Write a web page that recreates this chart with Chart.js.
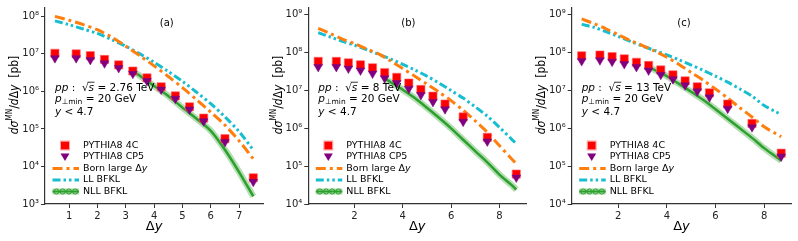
<!DOCTYPE html>
<html>
<head>
<meta charset="utf-8">
<script src="https://cdn.jsdelivr.net/npm/chart.js@4.4.1/dist/chart.umd.min.js"></script>
<style>
  body { margin: 0; background: #fff; width: 798px; height: 241px; overflow: hidden; position: relative; }
  canvas { position: absolute; top: 0; }
</style>
</head>
<body>
<canvas id="chartA" width="270" height="241" style="left:0px"></canvas>
<canvas id="chartB" width="268" height="241" style="left:265px"></canvas>
<canvas id="chartC" width="268" height="241" style="left:530px"></canvas>
<script>
// --- data ---
const xPythiaA = [0.5, 1.25, 1.75, 2.25, 2.75, 3.25, 3.75, 4.25, 4.75, 5.25, 5.75, 6.5, 7.5];
const xPythiaBC = [0.5, 1.25, 1.75, 2.25, 2.75, 3.25, 3.75, 4.25, 4.75, 5.25, 5.75, 6.5, 7.5, 8.7];
const xCurveA = [0.5, 1, 1.5, 2, 2.5, 3, 3.5, 4, 4.5, 5, 5.5, 6, 6.5, 7, 7.5];
const xCurveBC = [0.5, 1, 1.5, 2, 2.5, 3, 3.5, 4, 4.5, 5, 5.5, 6, 6.5, 7, 7.5, 8, 8.5, 8.7];
const xNllA = [3.3, 3.5, 4, 4.5, 5, 5.5, 6, 6.5, 7, 7.5];
const xNllBC = [3.3, 3.5, 4, 4.5, 5, 5.5, 6, 6.5, 7, 7.5, 8, 8.5, 8.7];

// (a) 2.76 TeV
const p4cA  = [1.04e7, 1.0e7, 9.0e6, 7.1e6, 5.1e6, 3.5e6, 2.3e6, 1.33e6, 7.6e5, 3.9e5, 1.95e5, 5.5e4, 5.0e3];
const cp5A  = [7.7e6, 7.7e6, 6.9e6, 5.6e6, 4.2e6, 2.95e6, 1.9e6, 1.12e6, 6.4e5, 3.3e5, 1.6e5, 4.5e4, 3.9e3];
const bornA = [1.0e8, 7.9e7, 6.0e7, 4.4e7, 2.8e7, 1.6e7, 8.9e6, 4.8e6, 2.5e6, 1.26e6, 6.0e5, 2.8e5, 1.26e5, 4.8e4, 1.6e4];
const llA   = [7.6e7, 6.0e7, 4.6e7, 3.5e7, 2.4e7, 1.6e7, 1.0e7, 6.0e6, 3.4e6, 1.86e6, 9.5e5, 4.7e5, 2.1e5, 8.5e4, 2.75e4];
const nllA  = [3.3e6, 2.6e6, 1.4e6, 7.6e5, 3.7e5, 1.86e5, 8.9e4, 2.8e4, 7.1e3, 1.6e3];

// (b) 8 TeV
const p4cB  = [5.9e7, 5.9e7, 5.4e7, 4.8e7, 4.0e7, 3.0e7, 2.24e7, 1.58e7, 1.07e7, 7.1e6, 4.4e6, 2.0e6, 5.8e5, 6.2e4];
const cp5B  = [4.2e7, 4.2e7, 3.8e7, 3.4e7, 2.8e7, 2.1e7, 1.58e7, 1.12e7, 7.6e6, 5.0e6, 3.2e6, 1.5e6, 4.5e5, 5.0e4];
const bornB = [4.4e8, 3.2e8, 2.3e8, 1.74e8, 1.26e8, 9.3e7, 6.0e7, 3.8e7, 2.4e7, 1.48e7, 9.1e6, 5.4e6, 3.0e6, 1.58e6, 7.9e5, 3.5e5, 1.58e5, 1.15e5];
const llB   = [3.4e8, 2.6e8, 2.0e8, 1.58e8, 1.2e8, 9.1e7, 6.8e7, 4.9e7, 3.5e7, 2.4e7, 1.58e7, 1.0e7, 6.3e6, 3.7e6, 2.1e6, 1.07e6, 5.2e5, 4.0e5];
const nllB  = [2.0e7, 1.66e7, 1.05e7, 6.3e6, 3.5e6, 1.9e6, 1.0e6, 5.0e5, 2.5e5, 1.26e5, 6.0e4, 3.2e4, 2.4e4];

// (c) 13 TeV
const p4cC  = [8.3e7, 8.7e7, 7.9e7, 6.9e7, 5.6e7, 4.6e7, 3.5e7, 2.6e7, 1.8e7, 1.26e7, 8.7e6, 4.4e6, 1.35e6, 2.2e5];
const cp5C  = [6.0e7, 6.3e7, 5.8e7, 5.0e7, 4.2e7, 3.4e7, 2.6e7, 2.0e7, 1.38e7, 9.5e6, 6.6e6, 3.3e6, 1.07e6, 1.8e5];
const bornC = [7.8e8, 5.9e8, 4.3e8, 3.0e8, 2.1e8, 1.55e8, 1.1e8, 7.6e7, 4.9e7, 3.0e7, 1.86e7, 1.1e7, 6.3e6, 3.5e6, 2.0e6, 1.1e6, 7.1e5, 6.0e5];
const llC   = [5.6e8, 4.7e8, 3.6e8, 2.7e8, 2.0e8, 1.5e8, 1.15e8, 8.7e7, 6.5e7, 4.7e7, 3.4e7, 2.4e7, 1.66e7, 1.1e7, 7.1e6, 4.0e6, 2.7e6, 2.3e6];
const nllC  = [4.0e7, 3.5e7, 2.4e7, 1.5e7, 9.3e6, 5.6e6, 3.2e6, 1.8e6, 1.0e6, 5.6e5, 3.0e5, 1.74e5, 1.4e5];

// tick labels
const xTicksA = [1, 2, 3, 4, 5, 6, 7];
const xTicksBC = [2, 4, 6, 8];
const yTicksA = [1e3, 1e4, 1e5, 1e6, 1e7, 1e8];
const yTicksBC = [1e4, 1e5, 1e6, 1e7, 1e8, 1e9];

const legendLabels = ['PYTHIA8 4C', 'PYTHIA8 CP5', 'Born large Δy', 'LL BFKL', 'NLL BFKL'];

const RED = '#ff0000', PURPLE = '#800080', ORANGE = '#ff7f0e', CYAN = '#17becf', GREEN = '#2ca02c';
const FONT = '"DejaVu Sans", sans-serif';
const BORN_DASH = [10, 4, 3, 4];
const LL_DASH = [8, 3, 2.5, 3, 2.5, 3];

function pts(xs, ys) { return xs.map((x, i) => ({ x: x, y: ys[i] })); }

const SUP = '⁰¹²³⁴⁵⁶⁷⁸⁹';
function decadeLabel(v) {
  const e = Math.round(Math.log10(v));
  return '10' + String(e).split('').map(d => SUP[+d]).join('');
}

// draw a run of text pieces with different fonts; returns width
function rich(ctx, x, y, pieces, base, measureOnly) {
  let cx = x;
  pieces.forEach(pc => {
    const size = pc.size || base;
    ctx.font = (pc.italic ? 'italic ' : '') + size + 'px ' + FONT;
    const w = ctx.measureText(pc.t).width;
    if (!measureOnly) {
      ctx.fillText(pc.t, cx, y + (pc.dy || 0));
      if (pc.over) {
        ctx.beginPath();
        ctx.lineWidth = 0.8;
        ctx.moveTo(cx - 1, y - base * 0.55);
        ctx.lineTo(cx + w + 0.5, y - base * 0.55);
        ctx.stroke();
      }
    }
    cx += w;
  });
  return cx - x;
}

function textPlugin(p) {
  return {
    id: 'texts',
    afterDraw(chart) {
      const ctx = chart.ctx;
      const a = chart.chartArea;
      ctx.save();
      ctx.fillStyle = '#000';
      ctx.strokeStyle = '#000';
      ctx.textBaseline = 'middle';
      ctx.textAlign = 'left';

      // y title (slightly squeezed along its length like the figure)
      const yt = [
        { t: 'd', italic: true }, { t: 'σ', italic: true }, { t: 'MN', size: 8.5, dy: -5 },
        { t: '/' }, { t: 'd', italic: true }, { t: 'Δ' }, { t: 'y', italic: true }, { t: '  [pb]' }
      ];
      ctx.save();
      ctx.translate(a.left - 30, 95);
      ctx.rotate(-Math.PI / 2);
      ctx.scale(0.86, 1);
      const tw = rich(ctx, 0, 0, yt, 12.5, true);
      rich(ctx, -tw / 2, 0, yt, 12.5);
      ctx.restore();

      // x title
      const xt = [{ t: 'Δ' }, { t: 'y', italic: true }];
      const xw = rich(ctx, 0, 0, xt, 13, true);
      rich(ctx, (a.left + a.right) / 2 - xw / 2, 227, xt, 13);

      // panel tag
      ctx.font = '10px ' + FONT;
      ctx.textAlign = 'center';
      ctx.fillText(p.tag, p.tagX, 23);
      ctx.textAlign = 'left';

      // annotation
      const ax = a.left + 10;
      rich(ctx, ax, 88, [{ t: 'pp', italic: true }, { t: ' :  √' }, { t: 's', italic: true, over: true }, { t: ' = ' + p.energy }], 10.5);
      rich(ctx, ax, 99.5, [{ t: 'p', italic: true }, { t: '⊥min', size: 7.5, dy: 3 }, { t: ' = 20 GeV' }], 10.5);
      rich(ctx, ax, 112, [{ t: 'y', italic: true }, { t: ' < 4.7' }], 10.5);

      // legend
      const rows = [145.5, 157, 168.5, 180, 191.5];
      const lx0 = a.left + 7.5, lx1 = a.left + 34, mx = a.left + 20, tx = a.left + 38;
      ctx.font = '9.5px ' + FONT;
      legendLabels.forEach((lab, i) => {
        if (i === 2) {
          rich(ctx, tx, rows[i], [{ t: 'Born large Δ' }, { t: 'y', italic: true }], 9.5);
        } else {
          ctx.font = '9.5px ' + FONT;
          ctx.fillText(lab, tx, rows[i]);
        }
      });
      // markers
      ctx.fillStyle = RED;
      ctx.fillRect(mx - 4, rows[0] - 4, 8, 8);
      ctx.strokeStyle = 'rgba(255,100,100,0.6)';
      ctx.lineWidth = 1;
      ctx.strokeRect(mx - 4.5, rows[0] - 4.5, 9, 9);
      ctx.fillStyle = PURPLE;
      ctx.beginPath();
      ctx.moveTo(mx - 4.5, rows[1] - 3.5);
      ctx.lineTo(mx + 4.5, rows[1] - 3.5);
      ctx.lineTo(mx, rows[1] + 4);
      ctx.closePath();
      ctx.fill();
      ctx.lineWidth = 3;
      ctx.strokeStyle = ORANGE;
      ctx.setLineDash(BORN_DASH);
      ctx.beginPath(); ctx.moveTo(lx0, rows[2]); ctx.lineTo(lx1, rows[2]); ctx.stroke();
      ctx.strokeStyle = CYAN;
      ctx.setLineDash(LL_DASH);
      ctx.beginPath(); ctx.moveTo(lx0, rows[3]); ctx.lineTo(lx1, rows[3]); ctx.stroke();
      ctx.setLineDash([]);
      ctx.strokeStyle = 'rgba(44,160,44,0.4)';
      ctx.lineWidth = 6;
      ctx.beginPath(); ctx.moveTo(lx0, rows[4]); ctx.lineTo(lx1, rows[4]); ctx.stroke();
      ctx.strokeStyle = GREEN;
      ctx.lineWidth = 2;
      ctx.beginPath(); ctx.moveTo(lx0, rows[4]); ctx.lineTo(lx1, rows[4]); ctx.stroke();
      ctx.lineWidth = 1;
      for (let k = 0; k < 4; k++) {
        ctx.beginPath();
        ctx.arc(lx0 + 4 + k * 6.2, rows[4], 2.6, 0, Math.PI * 2);
        ctx.stroke();
      }
      ctx.restore();
    }
  };
}

function makePanel(id, p) {
  const tickFont = { size: 10, family: FONT };
  new Chart(document.getElementById(id), {
    type: 'line',
    data: {
      datasets: [
        { data: pts(p.xPy, p.p4c), showLine: false, pointStyle: 'rect', pointRadius: 5.8, pointBackgroundColor: RED,
          pointBorderColor: 'rgba(255,110,110,0.6)', pointBorderWidth: 1, order: 1 },
        { data: pts(p.xPy, p.cp5), showLine: false, pointStyle: 'triangle', rotation: 180, pointRadius: 5, pointBackgroundColor: PURPLE,
          pointBorderColor: PURPLE, pointBorderWidth: 0.5, order: 0 },
        { data: pts(p.xCurve, p.born), borderColor: ORANGE, borderWidth: 3, borderDash: BORN_DASH, pointRadius: 0, tension: 0.3, order: 4 },
        { data: pts(p.xCurve, p.ll), borderColor: CYAN, borderWidth: 3, borderDash: LL_DASH, pointRadius: 0, tension: 0.3, order: 5 },
        { data: pts(p.xNll, p.nll), borderColor: 'rgba(44,160,44,0.35)', borderWidth: 6.5, pointRadius: 0, tension: 0.3, order: 3 },
        { data: pts(p.xNll, p.nll), borderColor: GREEN, borderWidth: 2.5, pointRadius: 0, tension: 0.3, order: 2 }
      ]
    },
    options: {
      responsive: false,
      animation: false,
      layout: { padding: { left: 0, right: p.padR, top: p.padT, bottom: 0 } },
      plugins: { legend: { display: false }, tooltip: { enabled: false } },
      scales: {
        x: {
          type: 'linear', min: p.xMin, max: p.xMax,
          afterBuildTicks: s => { s.ticks = p.xTicks.map(v => ({ value: v })); },
          afterFit: s => { s.height = 37; },
          grid: { drawOnChartArea: false, drawTicks: true, tickLength: 4, color: '#333', tickWidth: 1 },
          border: { display: true, color: '#333', width: 1.2 },
          ticks: { color: '#222', font: tickFont, padding: 2, maxRotation: 0, autoSkip: false }
        },
        y: {
          type: 'logarithmic', min: p.yMin, max: p.yMax, bounds: 'data',
          afterBuildTicks: s => { s.ticks = p.yTicks.map(v => ({ value: v })); },
          afterFit: s => { s.width = p.yW; },
          grid: { drawOnChartArea: false, drawTicks: true, tickLength: 4, color: '#333', tickWidth: 1 },
          border: { display: true, color: '#333', width: 1.2 },
          ticks: { color: '#222', font: tickFont, padding: 2, autoSkip: false, callback: v => decadeLabel(v) }
        }
      }
    },
    plugins: [textPlugin(p)]
  });
}

makePanel('chartA', {
  xPy: xPythiaA, p4c: p4cA, cp5: cp5A, xCurve: xCurveA, born: bornA, ll: llA, xNll: xNllA, nll: nllA,
  xMin: 0.15, xMax: 7.85, xTicks: xTicksA, yMin: 1e3, yMax: 1.67e8, yTicks: yTicksA,
  yW: 45, padR: 5.5, padT: 5, tag: '(a)', tagX: 166.7, energy: '2.76 TeV'
});
makePanel('chartB', {
  xPy: xPythiaBC, p4c: p4cB, cp5: cp5B, xCurve: xCurveBC, born: bornB, ll: llB, xNll: xNllBC, nll: nllB,
  xMin: 0.09, xMax: 9.11, xTicks: xTicksBC, yMin: 1e4, yMax: 1.52e9, yTicks: yTicksBC,
  yW: 43.3, padR: 4.5, padT: 6, tag: '(b)', tagX: 143.3, energy: '8 TeV'
});
makePanel('chartC', {
  xPy: xPythiaBC, p4c: p4cC, cp5: cp5C, xCurve: xCurveBC, born: bornC, ll: llC, xNll: xNllBC, nll: nllC,
  xMin: 0.09, xMax: 9.11, xTicks: xTicksBC, yMin: 1e4, yMax: 1.52e9, yTicks: yTicksBC,
  yW: 41.7, padR: 5.5, padT: 6, tag: '(c)', tagX: 154, energy: '13 TeV'
});
</script>
</body>
</html>
